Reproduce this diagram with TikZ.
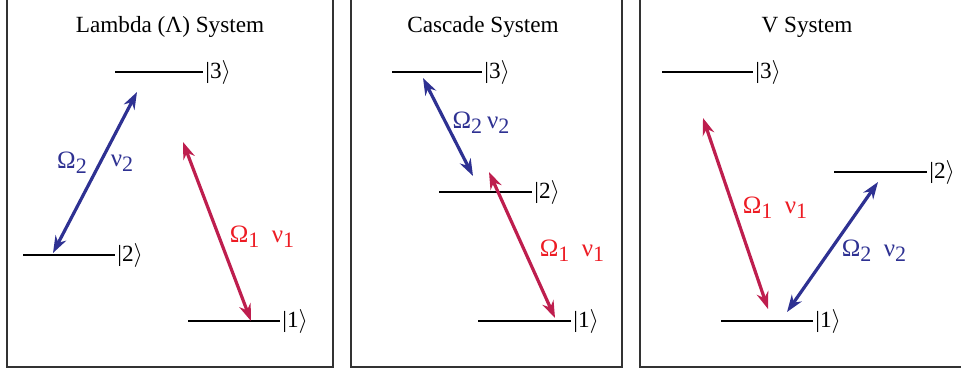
\documentclass[tikz,border=0pt]{standalone}
\usepackage{fontspec}
\setmainfont{Liberation Serif}
\usetikzlibrary{arrows.meta}
\definecolor{arblue}{RGB}{46,49,146}
\definecolor{arred}{RGB}{190,30,78}
\definecolor{lbred}{RGB}{237,28,36}
\newcommand{\ket}[1]{|#1\ensuremath{\rangle}}
\newcommand{\sbs}[1]{\raisebox{-0.45ex}{\fontsize{11}{11}\selectfont #1}}
\begin{document}
\begin{tikzpicture}[x=0.5pt,y=-0.5pt,
  font=\fontsize{11.6}{14}\selectfont,
  panel/.style={draw=black!80, line width=1pt},
  level/.style={draw=black, line width=0.6pt},
  ketlbl/.style={anchor=west, inner sep=1pt},
  trans/.style={line width=1.6pt, {Stealth[length=8.5pt,width=6pt]}-{Stealth[length=8.5pt,width=6pt]}},
  blab/.style={text=arblue, inner sep=0pt, font=\fontsize{12.5}{14}\selectfont},
  rlab/.style={text=lbred, inner sep=0pt, font=\fontsize{12.5}{14}\selectfont},
  ttl/.style={inner sep=0pt}]
\useasboundingbox (0,0) rectangle (961,370);
\clip (0,0) rectangle (961,370);
% panels
\draw[panel] (7,-20) rectangle (333,367);
\draw[panel] (351,-20) rectangle (622,367);
\draw[panel] (640,-20) rectangle (980,367);
% ---------- Lambda ----------
\node[ttl] (t1) at (170,27) {Lambda (Λ) System};
\coordinate (a3l) at (115,72); \coordinate (a3r) at (203,72);
\coordinate (a2l) at (23,255); \coordinate (a2r) at (115,255);
\coordinate (a1l) at (188,321); \coordinate (a1r) at (280,321);
\draw[level] (a3l) -- (a3r); \node[ketlbl] (k3a) at (a3r) {\ket{3}};
\draw[level] (a2l) -- (a2r); \node[ketlbl] (k2a) at (a2r) {\ket{2}};
\draw[level] (a1l) -- (a1r); \node[ketlbl] (k1a) at (a1r) {\ket{1}};
\coordinate (ab1) at (53,253); \coordinate (ab2) at (137,92);
\coordinate (ar1) at (183,142); \coordinate (ar2) at (251,321);
\draw[trans, arblue] (ab1) -- (ab2);
\draw[trans, arred] (ar1) -- (ar2);
\node[blab] (o2a) at (72,163) {Ω\sbs{2}};
\node[blab] (n2a) at (122,163) {ν\sbs{2}};
\node[rlab] (l1a) at (262,237) {Ω\sbs{1}\hspace{0.5em}ν\sbs{1}};
% ---------- Cascade ----------
\node[ttl] (t2) at (483,27) {Cascade System};
\coordinate (b3l) at (392,72); \coordinate (b3r) at (482,72);
\coordinate (b2l) at (439,192); \coordinate (b2r) at (532,192);
\coordinate (b1l) at (478,321); \coordinate (b1r) at (571,321);
\draw[level] (b3l) -- (b3r); \node[ketlbl] (k3b) at (b3r) {\ket{3}};
\draw[level] (b2l) -- (b2r); \node[ketlbl] (k2b) at (b2r) {\ket{2}};
\draw[level] (b1l) -- (b1r); \node[ketlbl] (k1b) at (b1r) {\ket{1}};
\coordinate (bb1) at (423,78); \coordinate (bb2) at (473,176);
\coordinate (br1) at (489,172); \coordinate (br2) at (555,318);
\draw[trans, arblue] (bb1) -- (bb2);
\draw[trans, arred] (br1) -- (br2);
\node[blab] (l2b) at (481,123) {Ω\sbs{2}\hspace{0.2em}ν\sbs{2}};
\node[rlab] (l1b) at (572,251) {Ω\sbs{1}\hspace{0.5em}ν\sbs{1}};
% ---------- V ----------
\node[ttl] (t3) at (807,27) {V System};
\coordinate (c3l) at (662,72); \coordinate (c3r) at (753,72);
\coordinate (c2l) at (834,172); \coordinate (c2r) at (927,172);
\coordinate (c1l) at (721,321); \coordinate (c1r) at (813,321);
\draw[level] (c3l) -- (c3r); \node[ketlbl] (k3c) at (c3r) {\ket{3}};
\draw[level] (c2l) -- (c2r); \node[ketlbl] (k2c) at (c2r) {\ket{2}};
\draw[level] (c1l) -- (c1r); \node[ketlbl] (k1c) at (c1r) {\ket{1}};
\coordinate (cr1) at (703,118); \coordinate (cr2) at (768,309);
\coordinate (cb1) at (878,182); \coordinate (cb2) at (787,312);
\draw[trans, arred] (cr1) -- (cr2);
\draw[trans, arblue] (cb1) -- (cb2);
\node[rlab] (l1c) at (775,208) {Ω\sbs{1}\hspace{0.5em}ν\sbs{1}};
\node[blab] (l2c) at (874,251) {Ω\sbs{2}\hspace{0.5em}ν\sbs{2}};
\end{tikzpicture}
\end{document}
